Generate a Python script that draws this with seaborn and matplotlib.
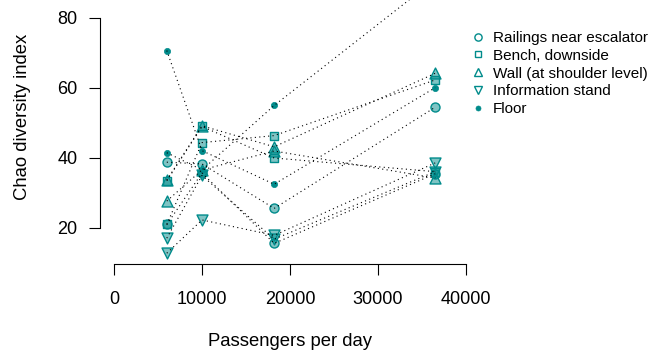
import matplotlib
matplotlib.use("Agg")
import matplotlib.pyplot as plt
from matplotlib.colors import to_rgba
from matplotlib.lines import Line2D
import pandas as pd
import seaborn as sns

# Passenger counts of the four stations
passengers = [6000, 10000, 18200, 36500]

# Chao diversity per sampling location, two replicate swabs per station
railings_1 = [38.8, 38.3, 25.6, 54.5]
railings_2 = [21.0, 35.7, 15.6, 35.5]
bench_1 = [21.0, 44.4, 46.4, 62.3]
bench_2 = [33.5, 49.0, 40.0, 36.1]
wall_1 = [33.7, 49.2, 43.2, 64.2]
wall_2 = [27.7, 36.6, 42.0, 34.3]
info_1 = [12.8, 22.3, 17.9, 38.6]
info_2 = [17.1, 35.0, 16.8, 36.1]
floor_1 = [70.7, 42.1, 32.5, 60.1]
floor_2 = [41.5, 36.6, 55.0, 91.0]

locations = ["Railings near escalator", "Bench, downside",
             "Wall (at shoulder level)", "Information stand", "Floor"]
x_ticks = [0, 10000, 20000, 30000, 40000]
y_ticks = [20, 40, 60, 80]

series = {
    locations[0]: [railings_1, railings_2],
    locations[1]: [bench_1, bench_2],
    locations[2]: [wall_1, wall_2],
    locations[3]: [info_1, info_2],
    locations[4]: [floor_1, floor_2],
}

rows = []
for loc, reps in series.items():
    for r, vals in enumerate(reps):
        for x, v in zip(passengers, vals):
            rows.append({"location": loc, "trace": f"{loc}-{r}",
                         "passengers": x, "chao": v})
df = pd.DataFrame(rows)

sns.set_style("ticks")
plt.rcParams["font.family"] = ["Liberation Sans", "DejaVu Sans"]
plt.rcParams["text.color"] = "black"
plt.rcParams["axes.labelcolor"] = "black"

teal = "#008b8b"
fill = to_rgba(teal, 0.5)
marker_style = {
    locations[0]: ("o", 42),
    locations[1]: ("s", 34),
    locations[2]: ("^", 62),
    locations[3]: ("v", 62),
}

fig = plt.figure(figsize=(6.65, 3.51), dpi=100)
ax = fig.add_axes([100 / 665, 87 / 351, 380 / 665, 264 / 351])

for loc, (m, s) in marker_style.items():
    sns.scatterplot(data=df[df["location"] == loc], x="passengers", y="chao",
                    marker=m, s=s, color=fill, edgecolor=teal, linewidth=1.0,
                    ax=ax, legend=False, zorder=2)
sns.scatterplot(data=df[df["location"] == "Floor"], x="passengers", y="chao",
                marker="o", s=20, color=teal, edgecolor=teal, linewidth=0.5,
                ax=ax, legend=False, zorder=2)

sns.lineplot(data=df, x="passengers", y="chao", units="trace", estimator=None,
             color="black", linewidth=0.8, linestyle=(0, (1, 3)),
             ax=ax, legend=False, zorder=3)

ax.set_xlim(-1591, 41591)
ax.set_ylim(9.714, 85.14)
ax.set_xticks(x_ticks)
ax.set_yticks(y_ticks)
ax.set_xticklabels([str(t) for t in x_ticks])
ax.set_yticklabels([str(t) for t in y_ticks])
for side in ["top", "right"]:
    ax.spines[side].set_visible(False)
ax.spines["left"].set_bounds(20, 80)
ax.spines["bottom"].set_bounds(0, 40000)
for side in ["left", "bottom"]:
    ax.spines[side].set_color("black")
    ax.spines[side].set_linewidth(0.8)
ax.tick_params(axis="both", direction="out", length=7.8, width=0.8,
               color="black", labelcolor="black", labelsize=13)
ax.tick_params(axis="x", pad=12)
ax.tick_params(axis="y", pad=8.3)
ax.set_xlabel("")
ax.set_ylabel("")

fig.text(290 / 665, 1 - 341 / 351, "Passengers per day", ha="center",
         va="center", fontsize=13.3)
fig.text(23 / 665, 1 - 117 / 351, "Chao diversity index", ha="center",
         va="center", rotation=90, fontsize=13.3)

handles = [
    Line2D([], [], ls="", marker="o", mfc="none", mec=teal, ms=5.2, mew=1),
    Line2D([], [], ls="", marker="s", mfc="none", mec=teal, ms=4.6, mew=1),
    Line2D([], [], ls="", marker="^", mfc="none", mec=teal, ms=6.2, mew=1),
    Line2D([], [], ls="", marker="v", mfc="none", mec=teal, ms=6.2, mew=1),
    Line2D([], [], ls="", marker="o", mfc=teal, mec=teal, ms=3.6, mew=0.5),
]
ax.legend(handles, locations, loc="upper left",
          bbox_to_anchor=(470.5 / 665, 1 - 31 / 351),
          bbox_transform=fig.transFigure, frameon=False, fontsize=11,
          handlelength=1.0, handletextpad=0.47, labelspacing=0.25,
          borderpad=0, borderaxespad=0)

fig.savefig("out.png", dpi=100)
